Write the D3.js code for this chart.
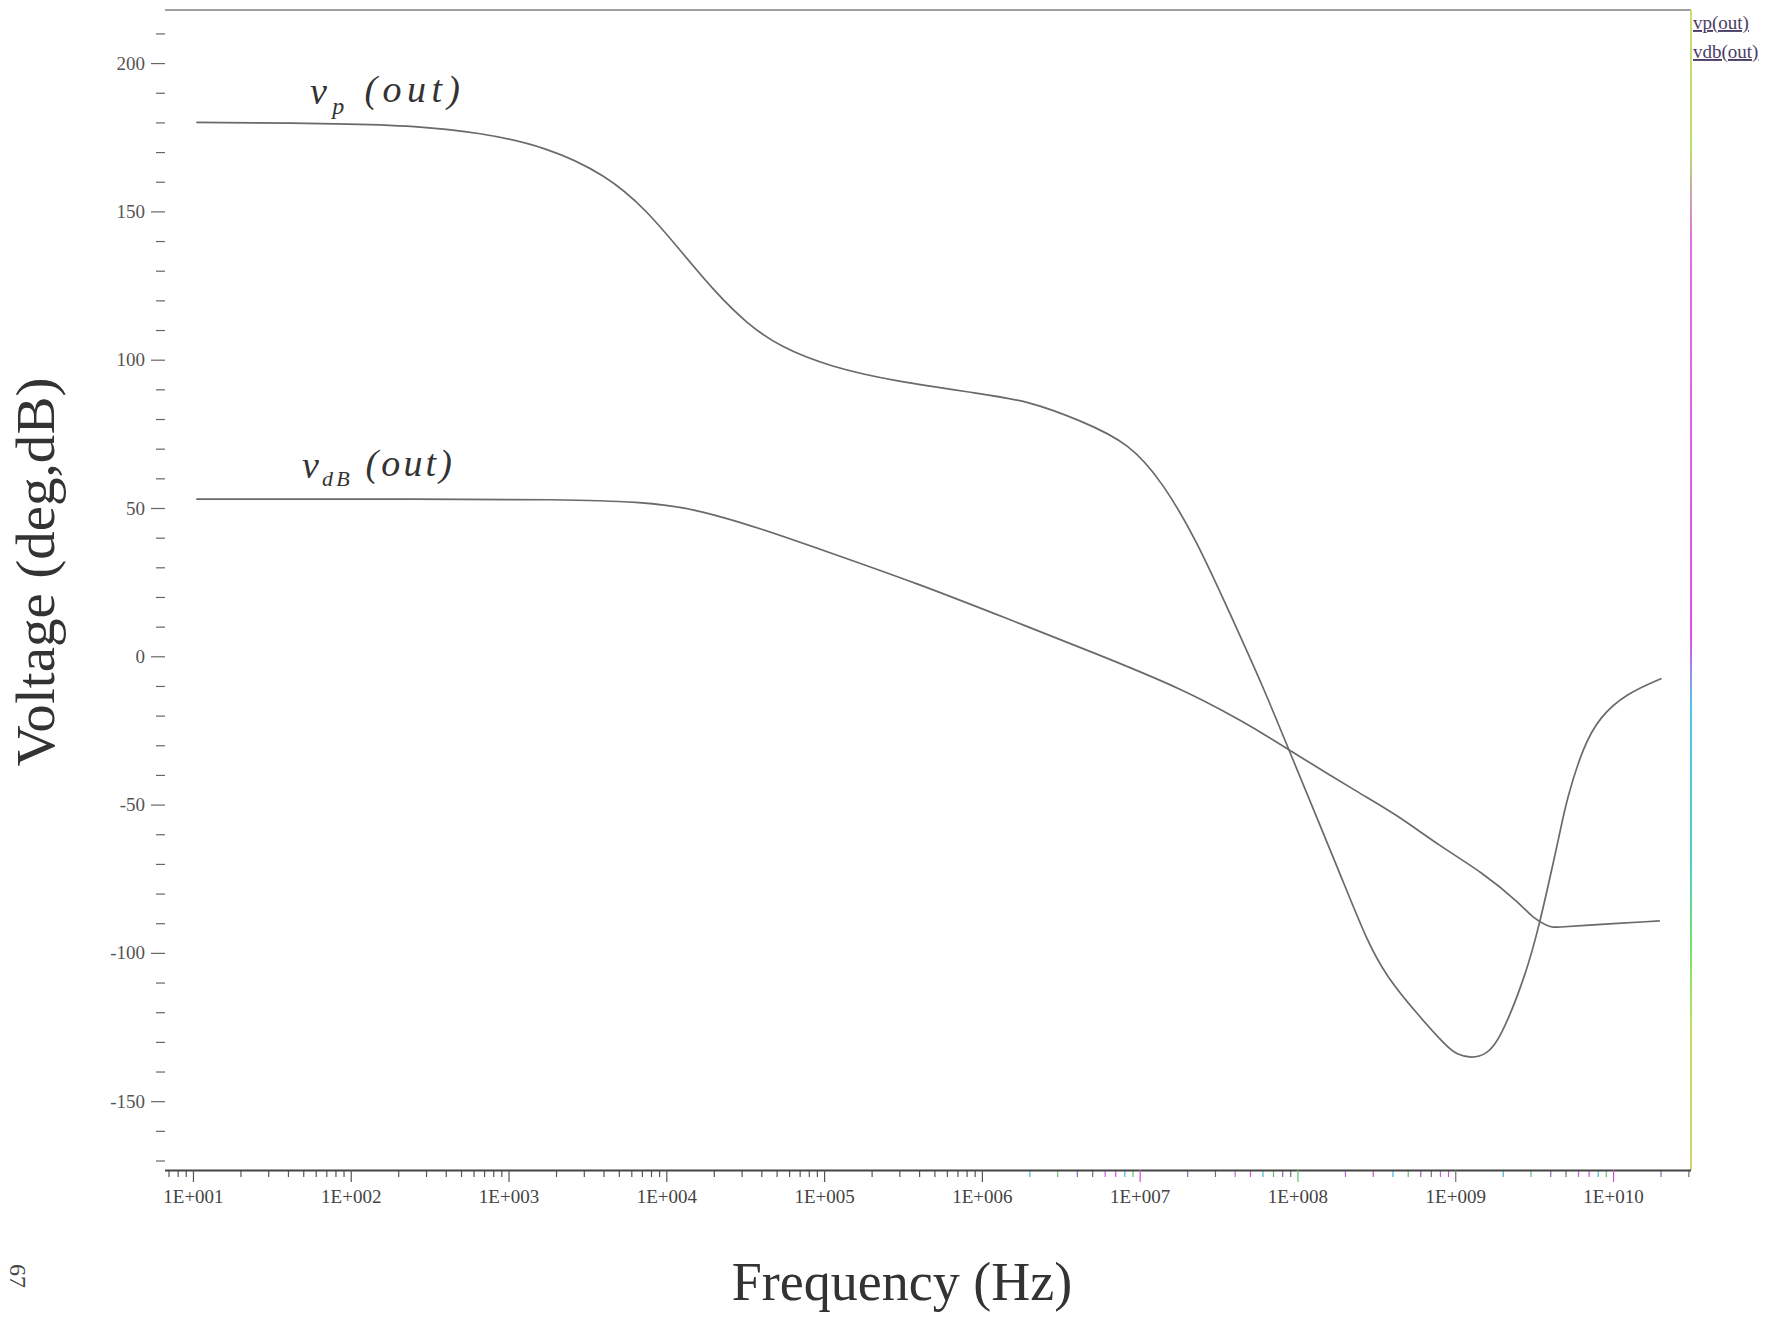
<!DOCTYPE html>
<html>
<head>
<meta charset="utf-8">
<script src="https://cdn.jsdelivr.net/npm/d3@7"></script>
<style>
    body { margin: 0; background: #ffffff; }
    #chart { width: 1766px; height: 1318px; }
    text { font-family: "Liberation Serif", "DejaVu Serif", serif; }
</style>
</head>
<body>
<div id="chart"></div>
<script>
// vp(out) phase trace (Hz, deg)
const vpFreq = [10.5, 100, 251, 659, 1742, 4188, 7499, 12190, 19820, 32280, 52480, 108900, 287700, 970500,
    2.0e6, 4.18e6, 8.67e6, 1.41e7, 2.29e7, 3.73e7, 6.07e7, 8.95e7, 1.86e8, 2.74e8, 3.67e8, 5.69e8, 8.81e8,
    1.02e9, 1.27e9, 1.58e9, 1.92e9, 2.83e9, 3.44e9, 3.78e9, 4.6e9, 5.07e9, 6.46e9, 8.24e9, 1.22e10, 2.03e10];
const vpVal = [180, 179.6, 178.8, 176.6, 171.8, 162.2, 150.4, 137.0, 123.5, 112.2, 104.3, 97.6, 92.6, 88.6,
    86, 79.6, 71.8, 58.3, 39.2, 14.5, -10.3, -32.4, -73.2, -95.7, -108, -120.4, -131.6,
    -134.2, -135.6, -134.2, -129.4, -106.9, -89.5, -80, -59.7, -48.5, -30.5, -20.4, -12.5, -7.5];

// vdb(out) magnitude trace (Hz, dB)
const vdbFreq = [10.5, 316, 2118, 6839, 14930, 39720, 105400, 388100, 1.43e6, 5.25e6, 1.94e7, 4.32e7, 5.78e7,
    1.04e8, 2.48e8, 4.46e8, 7.98e8, 1.5e9, 2.57e9, 3.12e9, 3.85e9, 4.17e9, 4.6e9, 5.58e9, 1.98e10];
const vdbVal = [53, 53, 52.9, 52.1, 49.9, 43.1, 35.2, 24.6, 12.8, 1.0, -11.4, -21.5, -25.4,
    -33.9, -46.2, -54.1, -64, -73, -83.3, -88.4, -90.9, -91.4, -91.3, -91.0, -89.2];

// axis ticks
const decadeTicks = [1e1, 1e2, 1e3, 1e4, 1e5, 1e6, 1e7, 1e8, 1e9, 1e10];
const decadeLabels = ["1E+001", "1E+002", "1E+003", "1E+004", "1E+005", "1E+006", "1E+007", "1E+008", "1E+009", "1E+010"];
const yMajorTicks = [-150, -100, -50, 0, 50, 100, 150, 200];
const legendLabels = ["vp(out)", "vdb(out)"];

document.addEventListener('DOMContentLoaded', () => {
    const width = 1766;
    const height = 1318;
    const left = 165, right = 1691, top = 10, bottom = 1170;

    const svg = d3.select("#chart")
        .append("svg")
        .attr("width", width)
        .attr("height", height);

    const x = d3.scaleLog()
        .domain([6.65, 3.12e10])
        .range([left, right]);

    const y = d3.scaleLinear()
        .domain([-173.2, 217.9])
        .range([bottom, top]);

    // 扫描件里右边框的彩色渐变
    const defs = svg.append("defs");
    const grad = defs.append("linearGradient")
        .attr("id", "rightEdge")
        .attr("x1", 0).attr("y1", 0).attr("x2", 0).attr("y2", 1);
    [[0, "#c8e070"], [0.12, "#b8dc70"], [0.2, "#e070e0"], [0.54, "#e050e0"], [0.6, "#50c8e8"],
     [0.74, "#50d0c0"], [0.8, "#70e070"], [0.88, "#c0e060"], [1, "#d0d070"]].forEach(s => {
        grad.append("stop").attr("offset", s[0]).attr("stop-color", s[1]);
    });
    const leftGrad = defs.append("linearGradient")
        .attr("id", "leftEdge")
        .attr("x1", 0).attr("y1", 0).attr("x2", 0).attr("y2", 1);
    [[0, "#8cc88c"], [0.3, "#9aaa9a"], [1, "#888888"]].forEach(s => {
        leftGrad.append("stop").attr("offset", s[0]).attr("stop-color", s[1]);
    });

    // 边框
    svg.append("line")
        .attr("x1", left).attr("x2", right).attr("y1", top).attr("y2", top)
        .attr("stroke", "#808080").attr("stroke-width", 1.5);
    svg.append("rect")
        .attr("x", right - 1).attr("y", top)
        .attr("width", 2).attr("height", bottom - top)
        .attr("fill", "url(#rightEdge)");

    // X axis: minor ticks (2..9 of each decade) and decade ticks
    const minorX = [];
    decadeTicks.concat([1]).forEach(d => {
        for (let k = 2; k <= 9; k++) {
            const v = d * k;
            if (v > x.domain()[0] && v < x.domain()[1]) minorX.push(v);
        }
    });
    minorX.sort((a, b) => a - b);
    const tickColors = ["#d050d0", "#40b8d8", "#60c070", "#9060c0", "#707070", "#c060e0"];

    const xMinor = svg.append("g")
        .attr("transform", `translate(0,${bottom})`)
        .call(d3.axisBottom(x).tickValues(minorX).tickSize(7).tickFormat(""));
    xMinor.select(".domain").remove();
    xMinor.selectAll(".tick line")
        .attr("stroke", (d, i) => d > 1.5e6 ? tickColors[i % tickColors.length] : "#555")
        .attr("stroke-width", 1.2);

    const xMajor = svg.append("g")
        .attr("transform", `translate(0,${bottom})`)
        .call(d3.axisBottom(x).tickValues(decadeTicks).tickSize(12).tickPadding(8)
            .tickFormat((d, i) => decadeLabels[i]));
    xMajor.select(".domain")
        .attr("d", `M${left},0.5H${right}`)
        .attr("stroke", "#444").attr("stroke-width", 2);
    xMajor.selectAll(".tick line")
        .attr("stroke", (d, i) => d > 1.5e6 ? tickColors[(i * 2) % tickColors.length] : "#555")
        .attr("stroke-width", 1.2);
    xMajor.selectAll(".tick text")
        .attr("fill", "#444")
        .style("font-family", "'Liberation Serif', serif")
        .style("font-size", "19px");

    // Y axis
    const minorY = d3.range(-170, 211, 10).filter(v => v % 50 !== 0);
    const yMinor = svg.append("g")
        .attr("transform", `translate(${left},0)`)
        .call(d3.axisLeft(y).tickValues(minorY).tickSize(9).tickFormat(""));
    yMinor.select(".domain").remove();
    yMinor.selectAll(".tick line").attr("stroke", "#666").attr("stroke-width", 1.2);

    const yMajor = svg.append("g")
        .attr("transform", `translate(${left},0)`)
        .call(d3.axisLeft(y).tickValues(yMajorTicks).tickSize(14).tickPadding(6)
            .tickFormat(d => String(d)));
    yMajor.select(".domain")
        .attr("d", `M0.5,${top}V${bottom}`)
        .attr("stroke", "url(#leftEdge)").attr("stroke-width", 2);
    yMajor.selectAll(".tick line").attr("stroke", "#666").attr("stroke-width", 1.2);
    yMajor.selectAll(".tick text")
        .attr("fill", "#555")
        .style("font-family", "'Liberation Serif', serif")
        .style("font-size", "19px");

    // 曲线 (B-spline, smooth like the plotted trace)
    const line = d3.line()
        .x(d => x(d[0]))
        .y(d => y(d[1]))
        .curve(d3.curveBasis);

    svg.append("path")
        .datum(vpFreq.map((f, i) => [f, vpVal[i]]))
        .attr("fill", "none")
        .attr("stroke", "#6a6a6a")
        .attr("stroke-width", 1.7)
        .attr("d", line);

    svg.append("path")
        .datum(vdbFreq.map((f, i) => [f, vdbVal[i]]))
        .attr("fill", "none")
        .attr("stroke", "#6a6a6a")
        .attr("stroke-width", 1.7)
        .attr("d", line);

    // 手写标注
    const vpLabel = svg.append("text")
        .attr("x", 310).attr("y", 104)
        .attr("textLength", 150).attr("lengthAdjust", "spacing")
        .attr("fill", "#333")
        .style("font-style", "italic")
        .style("font-size", "38px");
    vpLabel.append("tspan").text("v");
    vpLabel.append("tspan").attr("dy", 10).style("font-size", "24px").text("p");
    vpLabel.append("tspan").attr("dy", -12).text(" (out)");

    const vdbLabel = svg.append("text")
        .attr("x", 302).attr("y", 478)
        .attr("textLength", 150).attr("lengthAdjust", "spacing")
        .attr("fill", "#333")
        .style("font-style", "italic")
        .style("font-size", "38px");
    vdbLabel.append("tspan").text("v");
    vdbLabel.append("tspan").attr("dy", 8).style("font-size", "22px").text("dB");
    vdbLabel.append("tspan").attr("dy", -10).text(" (out)");

    // legend at the right edge
    legendLabels.forEach((label, i) => {
        svg.append("text")
            .attr("x", right + 2)
            .attr("y", 29 + i * 29)
            .attr("fill", "#4a3c66")
            .style("font-size", "19px")
            .style("text-decoration", "underline")
            .text(label);
    });

    // 坐标轴标题
    svg.append("text")
        .attr("x", 902).attr("y", 1300)
        .attr("text-anchor", "middle")
        .attr("fill", "#333")
        .style("font-size", "54px")
        .text("Frequency (Hz)");

    svg.append("text")
        .attr("transform", "translate(54,572) rotate(-90)")
        .attr("text-anchor", "middle")
        .attr("textLength", 389).attr("lengthAdjust", "spacingAndGlyphs")
        .attr("fill", "#333")
        .style("font-size", "54px")
        .text("Voltage (deg,dB)");

    // page number from the scan, sideways
    svg.append("text")
        .attr("transform", "translate(10,1276) rotate(90)")
        .attr("text-anchor", "middle")
        .attr("fill", "#444")
        .style("font-size", "24px")
        .text("67");
});
</script>
</body>
</html>
